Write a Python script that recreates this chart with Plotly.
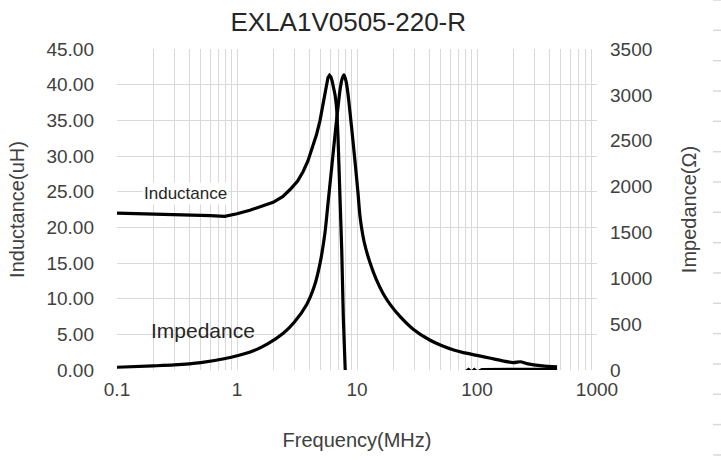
import plotly.graph_objects as go

# ---- data ----
freq_L = [0.1, 0.2, 0.4, 0.6, 0.79, 1.0, 1.28, 1.6, 2.0, 2.4, 2.77, 3.2, 3.55, 3.9, 4.3, 4.6,
          4.92, 5.2, 5.41, 5.6, 5.73, 5.9, 6.05, 6.19, 6.4, 6.56, 6.7, 6.81, 6.95, 7.1, 7.22,
          7.46, 7.69, 7.94, 8.3, 10, 20, 40, 70,
          85, 90, 95, 100, 110, 130, 160, 200, 260, 350, 465]
inductance = [22.0, 21.9, 21.75, 21.65, 21.55, 21.9, 22.4, 22.9, 23.5, 24.3, 25.3, 26.5, 27.8,
              29.3, 31.3, 33.0, 35.0, 37.1, 38.8, 40.3, 41.0, 41.3, 41.1, 40.6, 39.6, 38.6, 37.4,
              36.0, 32.5, 28.5, 25.0, 16.8, 7.4, 0.3, -8, -25, -8, -3, -1,
              0.05, -0.3, 0.05, -0.3, 0.05, 0.08, 0.1, 0.1, 0.1, 0.1, 0.1]

freq_Z = [0.1, 0.2, 0.3, 0.5, 0.8, 1.0, 1.29, 1.8, 2.43, 3.0, 3.81, 4.4, 4.92, 5.4, 5.77, 6.2,
          6.58, 7.22, 7.5, 7.8, 8.1, 8.4, 9.0, 9.6, 10.2, 10.6, 11.5, 12.8, 14.5, 16.5, 19,
          22.8, 29.4, 40, 50, 65, 77, 100, 130, 200, 230, 260, 350, 465]
impedance = [30, 45, 55, 80, 125, 155, 195, 285, 400, 520, 715, 910, 1163, 1490, 1853, 2250,
             2581, 3053, 3170, 3217, 3150, 3017, 2653, 2290, 1927, 1672, 1390, 1175, 985, 835, 710,
             585, 445, 330, 270, 215, 190, 160, 128, 80, 90, 70, 45, 35]

x_major = [0.1, 1, 10, 100, 1000]
x_major_text = ["0.1", "1", "10", "100", "1000"]
y_left_ticks = [0, 5, 10, 15, 20, 25, 30, 35, 40, 45]
y_right_ticks = [0, 500, 1000, 1500, 2000, 2500, 3000, 3500]

# grid positions on log axis: 1..9 multiples per decade
x_grid = []
for d in x_major[:-1]:
    for m in range(1, 10):
        x_grid.append(round(d * m, 6))
x_grid.append(1000)
x_text = [x_major_text[x_major.index(v)] if v in x_major else "" for v in x_grid]

FONT = "Liberation Sans, Arial, sans-serif"
TXT = "#404040"
GRID = "#d9d9d9"

fig = go.Figure()
fig.add_trace(go.Scatter(x=freq_L, y=inductance, mode="lines", name="Inductance",
                         line=dict(color="black", width=3.2), yaxis="y"))
fig.add_trace(go.Scatter(x=freq_Z, y=impedance, mode="lines", name="Impedance",
                         line=dict(color="black", width=3.2, shape="spline", smoothing=0.6),
                         yaxis="y2"))

fig.update_layout(
    width=721, height=460,
    margin=dict(l=117, r=124, t=49, b=90),
    paper_bgcolor="white", plot_bgcolor="white",
    showlegend=False,
    font=dict(family=FONT, color=TXT, size=18),
    title=dict(text="EXLA1V0505-220-R", x=0.483, xanchor="center", y=0.952, yanchor="middle",
               font=dict(size=26, color="#262626", family=FONT)),
    xaxis=dict(type="log", range=[-1, 3], tickvals=x_grid, ticktext=x_text,
               showgrid=True, gridcolor=GRID, gridwidth=1, zeroline=False,
               showline=False, ticks="", ticklabelstandoff=6,
               title=dict(text="Frequency(MHz)", standoff=33, font=dict(size=20)),
               tickfont=dict(size=19)),
    yaxis=dict(range=[0, 45], tickvals=y_left_ticks, tickformat=".2f",
               showgrid=True, gridcolor=GRID, gridwidth=1, zeroline=False,
               showline=False, ticks="", ticklabelstandoff=22,
               title=dict(text="Inductance(uH)", standoff=16, font=dict(size=20)),
               tickfont=dict(size=19)),
    yaxis2=dict(range=[0, 3500], tickvals=y_right_ticks, overlaying="y", side="right",
                showgrid=False, zeroline=False, showline=False, ticks="", ticklabelstandoff=12,
                title=dict(text="Impedance(Ω)", standoff=30, font=dict(size=20)),
                tickfont=dict(size=19)),
)

# in-plot labels
fig.add_annotation(x=-0.433, y=24.7, xref="x", yref="y", text="Inductance", showarrow=False,
                   font=dict(size=17, color="#262626", family=FONT), bgcolor="white",
                   xanchor="center", yanchor="middle")
fig.add_annotation(x=-0.283, y=5.47, xref="x", yref="y", text="Impedance", showarrow=False,
                   font=dict(size=21, color="#262626", family=FONT),
                   xanchor="center", yanchor="middle")

# faint dashes along the right edge of the picture (neighbouring chart edge)
for i in range(16):
    p = i * 30.33
    yp = (370 - p) / 321
    fig.add_shape(type="line", xref="paper", yref="paper", x0=1.2417, x1=1.26, y0=yp, y1=yp,
                  line=dict(color=GRID, width=1.5))

fig.write_html("out.html")
